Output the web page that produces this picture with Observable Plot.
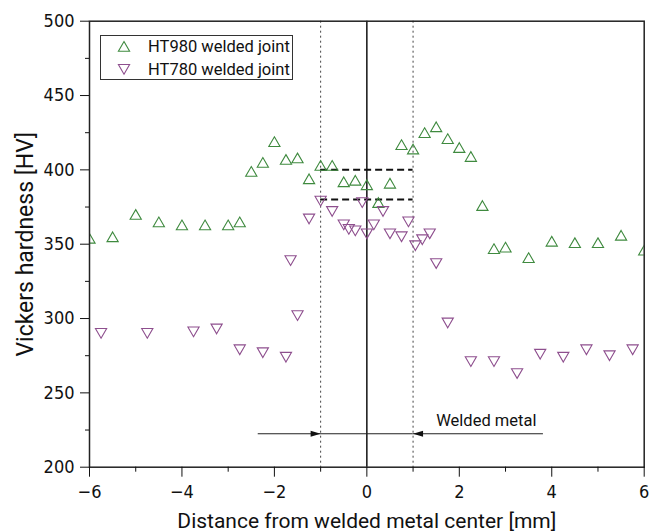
<!DOCTYPE html>
<html><head><meta charset="utf-8">
<script src="https://cdn.jsdelivr.net/npm/d3@7"></script>
<script src="https://cdn.jsdelivr.net/npm/@observablehq/plot@0.6"></script>
<style>
body{margin:0;background:#fff;}
#wrap{position:relative;width:656px;height:532px;font-family:Roboto,sans-serif;color:#111;}
#legend{position:absolute;left:100px;top:35px;width:193px;height:45px;border:1px solid #333;background:#fff;box-sizing:border-box;}
.row{position:absolute;left:0;width:190px;height:22px;}
.row svg{position:absolute;left:15px;top:3px;}
.row span{position:absolute;left:47px;top:0;line-height:22px;font-size:16.5px;white-space:nowrap;}
</style></head><body><div id="wrap"></div>
<script>
// ---- data ----
const seriesNames = ["HT980 welded joint", "HT780 welded joint"];
const seriesColors = ["#3f8a3f", "#8e4f8e"];

const x980 = [-6,-5.5,-5,-4.5,-4,-3.5,-3,-2.75,-2.5,-2.25,-2,-1.75,-1.5,-1.25,-1,-0.75,-0.5,-0.25,0,0.25,0.5,0.75,1,1.25,1.5,1.75,2,2.25,2.5,2.75,3,3.5,4,4.5,5,5.5,6];
const hv980 = [354,355,370,365,363,363,363,365,399,405,419,407,408,394,403,403,392,393,390,378,391,417,414,425,429,421,415,409,376,347,348,341,352,351,351,356,346];

const x780 = [-5.75,-4.75,-3.75,-3.25,-2.75,-2.25,-1.75,-1.65,-1.5,-1.25,-1,-0.75,-0.5,-0.39,-0.25,-0.1,0,0.15,0.35,0.5,0.75,0.9,1.05,1.2,1.36,1.5,1.75,2.25,2.75,3.25,3.75,4.25,4.75,5.25,5.75];
const hv780 = [290,290,291,293,279,277,274,339,302,367,379,372,363,360,359,378,357,363,372,357,355,365,349,353,357,337,297,271,271,263,276,274,279,275,279];

const xMajorTicks = [-6,-4,-2,0,2,4,6];
const xMinorTicks = [-5,-3,-1,1,3,5];
const yMajorTicks = [200,250,300,350,400,450,500];
const yMinorTicks = [225,275,325,375,425,475];

const centerLineX = [0];
const weldBoundsX = [-1, 1];
const bandLevelsHV = [400, 380];

const arrowY = 222.5;
const arrowSegments = [{x1:-2.35, x2:-1}, {x1:-1, x2:1}, {x1:3.82, x2:1}];
const headsRight = [{x:-1}];
const headsLeft = [{x:1}];
const weldLabel = [{text:"Welded metal", x:1.5, y:231}];

const xTitle = "Distance from welded metal center [mm]";
const yTitle = "Vickers hardness [HV]";

// ---- symbols ----
const triUp = {draw(c, size){const r=Math.sqrt(size/Math.PI), h=r*Math.sqrt(3); c.moveTo(0,-h/2); c.lineTo(r,h/2); c.lineTo(-r,h/2); c.closePath();}};
const triDown = {draw(c, size){const r=Math.sqrt(size/Math.PI), h=r*Math.sqrt(3); c.moveTo(0,h/2); c.lineTo(r,-h/2); c.lineTo(-r,-h/2); c.closePath();}};
const headR = {draw(c, size){const r=Math.sqrt(size/Math.PI); c.moveTo(0,0); c.lineTo(-2*r,-0.6*r); c.lineTo(-2*r,0.6*r); c.closePath();}};
const headL = {draw(c, size){const r=Math.sqrt(size/Math.PI); c.moveTo(0,0); c.lineTo(2*r,-0.6*r); c.lineTo(2*r,0.6*r); c.closePath();}};

const d980 = x980.map((x,i)=>({x, hv: hv980[i]}));
const d780 = x780.map((x,i)=>({x, hv: hv780[i]}));

const tickFont = "'Liberation Sans Narrow','Arial Narrow','DejaVu Sans Condensed',sans-serif";

const chart = Plot.plot({
  width: 656, height: 532,
  marginLeft: 89, marginRight: 12.3, marginTop: 20.7, marginBottom: 65.3,
  style: {fontFamily: "Roboto, sans-serif", fontSize: "17px", color: "#111", background: "#fff"},
  x: {domain: [-6, 6]},
  y: {domain: [200, 500]},
  marks: [
    Plot.ruleX(weldBoundsX, {stroke: "#444", strokeWidth: 1, strokeDasharray: "2,3"}),
    Plot.ruleX(centerLineX, {stroke: "#111", strokeWidth: 1.5}),
    Plot.ruleY(bandLevelsHV, {x1: -1, x2: 1, stroke: "#111", strokeWidth: 2, strokeDasharray: "7,4"}),
    Plot.ruleY(arrowSegments, {y: () => arrowY, x1: "x1", x2: "x2", stroke: "#222", strokeWidth: 1}),
    Plot.dot(headsRight, {x: "x", y: () => arrowY, symbol: headR, r: 5, fill: "#111", stroke: "none"}),
    Plot.dot(headsLeft, {x: "x", y: () => arrowY, symbol: headL, r: 5, fill: "#111", stroke: "none"}),
    Plot.text(weldLabel, {x: "x", y: "y", text: "text", textAnchor: "start", fontSize: 16.5, fill: "#111"}),
    Plot.dot(d980, {x: "x", y: "hv", symbol: triUp, r: 5.6, stroke: seriesColors[0], fill: "none", strokeWidth: 1.1, clip: true}),
    Plot.dot(d780, {x: "x", y: "hv", symbol: triDown, r: 5.6, stroke: seriesColors[1], fill: "none", strokeWidth: 1.1, clip: true}),
    Plot.frame({stroke: "#222", strokeWidth: 1.5}),
    Plot.axisX(xMajorTicks, {tickSize: 10, tickPadding: 8, fontFamily: tickFont, fontSize: 18, label: null, tickFormat: d => d < 0 ? "\u2212" + Math.abs(d) : String(d)}),
    Plot.axisX(xMinorTicks, {tickSize: 5, tickFormat: () => "", label: null}),
    Plot.axisY(yMajorTicks, {tickSize: 9, tickPadding: 6, fontFamily: tickFont, fontSize: 18, label: null}),
    Plot.axisY(yMinorTicks, {tickSize: 4, tickFormat: () => "", label: null}),
    Plot.text([xTitle], {frameAnchor: "bottom", dy: 54, lineAnchor: "middle", textAnchor: "middle", fontSize: 21, fill: "#111"}),
    Plot.text([yTitle], {frameAnchor: "left", dx: -64, rotate: -90, textAnchor: "middle", lineAnchor: "middle", fontSize: 23, fill: "#111"})
  ]
});
const wrap = document.getElementById("wrap");
wrap.appendChild(chart);

// legend
const legend = document.createElement("div");
legend.id = "legend";
const rowsY = [0, 23];
seriesNames.forEach((name, i) => {
  const row = document.createElement("div");
  row.className = "row";
  row.style.top = rowsY[i] + "px";
  const pts = i === 0 ? "8,2.5 13.6,12.2 2.4,12.2" : "8,12.2 13.6,2.5 2.4,2.5";
  row.innerHTML = `<svg width="16" height="15" viewBox="0 0 16 15"><polygon points="${pts}" fill="none" stroke="${seriesColors[i]}" stroke-width="1.1"/></svg><span>${name}</span>`;
  legend.appendChild(row);
});
wrap.appendChild(legend);
</script></body></html>
